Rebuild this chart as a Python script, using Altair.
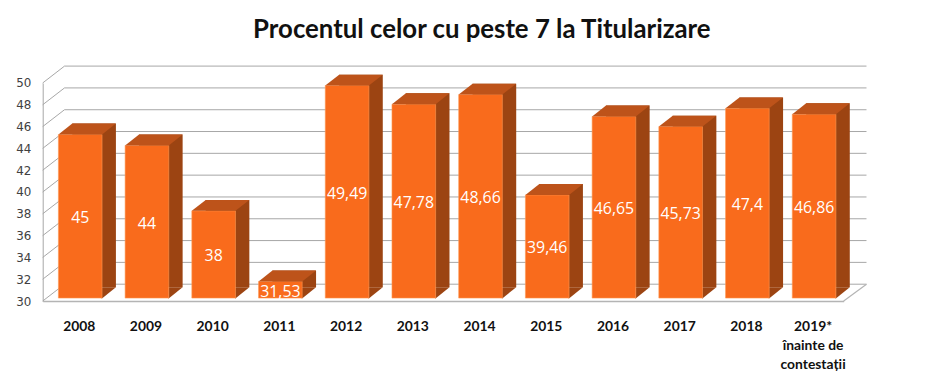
import altair as alt
import pandas as pd

years = ["2008", "2009", "2010", "2011", "2012", "2013", "2014", "2015",
         "2016", "2017", "2018", "2019*\nînainte de\ncontestații"]
values = [45, 44, 38, 31.53, 49.49, 47.78, 48.66, 39.46, 46.65, 45.73, 47.4, 46.86]
grid_ticks = [30, 32, 34, 36, 38, 40, 42, 44, 46, 48, 50]
title_text = "Procentul celor cu peste 7 la Titularizare"

FRONT = "#F96B1C"
TOP = "#BD531A"
SIDE = "#9C4412"
GRID = "#A6A6A6"

W, H = 808, 220
DX, DY = 22, 17      # wall depth
BX, BY = 4, 3        # bar front offset from floor front
SX, SY = 14, 11      # bar depth

bars = pd.DataFrame({
    "year": years,
    "value": values,
    "label": [f"{v:g}".replace(".", ",") for v in values],
    "base": [30] * len(values),
})
grid = pd.DataFrame({"g": grid_ticks})
floor = pd.DataFrame({"g": [30]})
titles = pd.DataFrame({"t": [title_text]})

yscale = alt.Scale(domain=[30, 50], nice=False, zero=False)
yaxis = alt.Axis(values=grid_ticks, ticks=False, grid=False, domain=True,
                 domainColor=GRID, domainWidth=1, labelPadding=12,
                 labelFont="DejaVu Sans", labelFontSize=12, labelColor="#404040",
                 title=None)
xscale = alt.Scale(paddingInner=0.346, paddingOuter=0.176)
xaxis = alt.Axis(ticks=False, domain=True, domainColor="#B4B4B4", domainWidth=1.5,
                 labelAngle=0, labelFont="Lato", labelFontWeight="bold",
                 labelFontSize=14, labelColor="#111111", labelPadding=19,
                 labelLineHeight=19, labelOffset=3,
                 labelExpr="split(datum.label, '\\n')", title=None)

def Y(field):
    return alt.Y(f"{field}:Q", scale=yscale, axis=yaxis, title=None)

X = alt.X("year:N", sort=years, scale=xscale, axis=xaxis, title=None)

# side wall diagonals for gridlines
diag = alt.Chart(grid).mark_rule(color=GRID, strokeWidth=1, y2Offset=-DY).encode(
    x=alt.value(0), x2=alt.value(DX), y=Y("g"), y2=alt.Y2("g"))
# back wall gridlines
back = alt.Chart(grid).mark_rule(color=GRID, strokeWidth=1, yOffset=-DY).encode(
    x=alt.value(DX), x2=alt.value(W + DX + 1), y=Y("g"))
# floor right edge
floor_edge = alt.Chart(floor).mark_rule(color="#B4B4B4", strokeWidth=1.2, y2Offset=-DY).encode(
    x=alt.value(W), x2=alt.value(W + DX + 1), y=Y("g"), y2=alt.Y2("g"))

# side silhouette (shifted back)
side = alt.Chart(bars).mark_bar(color=SIDE, xOffset=BX + SX, x2Offset=BX + SX,
                                yOffset=-BY - SY, y2Offset=-BY - SY).encode(
    x=X, y=Y("value"), y2=alt.Y2("base"))

tri_path = "M0.72,-0.3667 L0.72,0.02 L1.2,-0.3667 Z"
side_bottom = alt.Chart(bars).mark_point(shape=tri_path, size=3600, filled=True,
                                         opacity=1, color=SIDE, strokeWidth=0,
                                         xOffset=BX, yOffset=-BY).encode(
    x=X, y=Y("base"))

front = alt.Chart(bars).mark_bar(color=FRONT, xOffset=BX, x2Offset=BX,
                                 yOffset=-BY, y2Offset=-BY,
                                 stroke="#FF9A55", strokeWidth=0.6).encode(
    x=X, y=Y("value"), y2=alt.Y2("base"))

top_path = "M-0.7333,0 L0.7333,0 L1.2,-0.3667 L-0.2667,-0.3667 Z"
top = alt.Chart(bars).mark_point(shape=top_path, size=3600, filled=True,
                                 opacity=1, color=TOP, strokeWidth=0,
                                 xOffset=BX, yOffset=-BY).encode(
    x=X, y=Y("value"))

text = alt.Chart(bars).transform_calculate(
    mid="(datum.value + datum.base) / 2"
).mark_text(color="white", font="Open Sans", fontSize=16, baseline="middle",
            align="center", xOffset=BX, yOffset=-1).encode(
    x=X, y=Y("mid"), text="label:N")

title = alt.Chart(titles).mark_text(font="Lato", fontSize=26, fontWeight="bold",
                                    color="#111111", align="center",
                                    baseline="alphabetic").encode(
    x=alt.value(443), y=alt.value(-45), text="t:N")

chart = alt.layer(diag, back, floor_edge, side, side_bottom, front, top, text, title).properties(
    width=W, height=H,
    autosize=alt.AutoSizeParams(type="none"),
    padding={"left": 35, "top": 74, "right": 79, "bottom": 74},
).configure_view(stroke=None)

chart.save("out.html", embed_options={"renderer": "svg", "actions": False})
